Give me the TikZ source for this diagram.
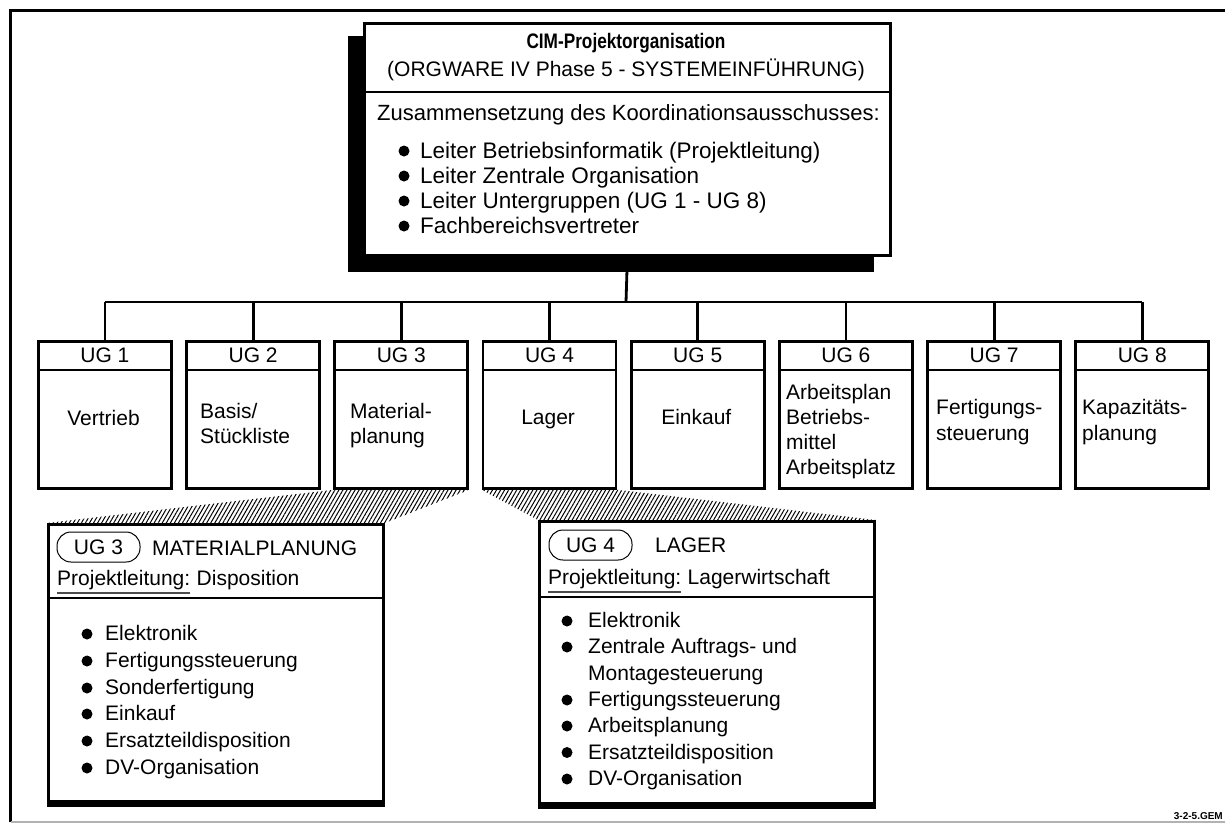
\documentclass[tikz,border=0pt]{standalone}
\usepackage{fontspec}
\setmainfont{Liberation Sans}
\newfontfamily\narrowsans{Liberation Sans}[FakeStretch=0.82]
\usetikzlibrary{positioning,patterns.meta}

\tikzset{
    lbl/.style={font=\fontsize{21}{25}\selectfont, inner sep=0, anchor=base west},
    biglbl/.style={font=\fontsize{22.5}{26}\selectfont, inner sep=0, anchor=base west},
    ttl/.style={font=\fontsize{21}{25}\narrowsans\bfseries\selectfont, inner sep=0, anchor=base},
    ugbox/.style={draw, line width=2.8pt, fill=white, anchor=north west, inner sep=0, minimum width=133pt, minimum height=147pt},
    detbox/.style={draw, line width=2.8pt, fill=white, anchor=north west, inner sep=0, minimum width=335pt},
    bul/.style={circle, fill=black, inner sep=0, minimum size=11pt},
    pill/.style={draw, line width=1pt, rounded corners=14pt, inner sep=0, minimum width=83pt, minimum height=30pt, font=\fontsize{21}{25}\selectfont},
    hatch/.style={pattern={Lines[angle=60, distance=3.5pt, line width=1pt]}},
    link/.style={line width=2.8pt}
}

\begin{document}
\begin{tikzpicture}[x=1pt, y=-1pt]

    \useasboundingbox (0,0) rectangle (1225,825);
    \draw[line width=2.8pt] (1225,10.5) -- (10.5,10.5) -- (10.5,822);
    \draw[line width=1.5pt, black!30] (10.5,822) -- (1225,822);

    \fill (348,36) rectangle (874,272);
    \node[draw, line width=2.8pt, fill=white, anchor=north west, inner sep=0, minimum width=526pt, minimum height=232pt] (top) at (363,22) {};
    \draw[link] ([yshift=-70pt]top.north west) -- ([yshift=-70pt]top.north east);

    \node[ttl] (title) at (626,48.5) {CIM-Projektorganisation};
    \node[lbl, anchor=base] (phase) at (626,76.5) {(ORGWARE IV Phase 5 - SYSTEMEINFÜHRUNG)};
    \node[lbl, font=\fontsize{22}{26}\selectfont] (zus) at (377,120.5) {Zusammensetzung des Koordinationsausschusses:};
    \node[bul] (zb1) at (404,151) {};
    \node[biglbl] (z1) at (420,158) {Leiter Betriebsinformatik (Projektleitung)};
    \node[bul] (zb2) at (404,176) {};
    \node[biglbl] (z2) at (420,183) {Leiter Zentrale Organisation};
    \node[bul] (zb3) at (404,201) {};
    \node[biglbl] (z3) at (420,208) {Leiter Untergruppen (UG 1 - UG 8)};
    \node[bul] (zb4) at (404,226) {};
    \node[biglbl] (z4) at (420,233) {Fachbereichsvertreter};

    \coordinate (bus) at (626,302);
    \draw[link] (top.south) -- (bus);

    \node[ugbox] (ug1) at (37,340) {};
    \node[ugbox] (ug2) at (185.2,340) {};
    \node[ugbox] (ug3) at (333.4,340) {};
    \node[ugbox] (ug4) at (481.6,340) {};
    \node[ugbox] (ug5) at (629.8,340) {};
    \node[ugbox] (ug6) at (778,340) {};
    \node[ugbox] (ug7) at (926.2,340) {};
    \node[ugbox] (ug8) at (1074.4,340) {};

    \draw[link] (ug1.north |- bus) -- (ug8.north |- bus);
    \draw[link] (ug1.north) -- (ug1.north |- bus);
    \draw[link] (ug2.north) -- (ug2.north |- bus);
    \draw[link] (ug3.north) -- (ug3.north |- bus);
    \draw[link] (ug4.north) -- (ug4.north |- bus);
    \draw[link] (ug5.north) -- (ug5.north |- bus);
    \draw[link] (ug6.north) -- (ug6.north |- bus);
    \draw[link] (ug7.north) -- (ug7.north |- bus);
    \draw[link] (ug8.north) -- (ug8.north |- bus);

    \draw[link] ([yshift=-30pt]ug1.north west) -- ([yshift=-30pt]ug1.north east);
    \draw[link] ([yshift=-30pt]ug2.north west) -- ([yshift=-30pt]ug2.north east);
    \draw[link] ([yshift=-30pt]ug3.north west) -- ([yshift=-30pt]ug3.north east);
    \draw[link] ([yshift=-30pt]ug4.north west) -- ([yshift=-30pt]ug4.north east);
    \draw[link] ([yshift=-30pt]ug5.north west) -- ([yshift=-30pt]ug5.north east);
    \draw[link] ([yshift=-30pt]ug6.north west) -- ([yshift=-30pt]ug6.north east);
    \draw[link] ([yshift=-30pt]ug7.north west) -- ([yshift=-30pt]ug7.north east);
    \draw[link] ([yshift=-30pt]ug8.north west) -- ([yshift=-30pt]ug8.north east);

    \node[lbl, anchor=base] (h1) at ([yshift=-22.5pt]ug1.north) {UG 1};
    \node[lbl, anchor=base] (h2) at ([yshift=-22.5pt]ug2.north) {UG 2};
    \node[lbl, anchor=base] (h3) at ([yshift=-22.5pt]ug3.north) {UG 3};
    \node[lbl, anchor=base] (h4) at ([yshift=-22.5pt]ug4.north) {UG 4};
    \node[lbl, anchor=base] (h5) at ([yshift=-22.5pt]ug5.north) {UG 5};
    \node[lbl, anchor=base] (h6) at ([yshift=-22.5pt]ug6.north) {UG 6};
    \node[lbl, anchor=base] (h7) at ([yshift=-22.5pt]ug7.north) {UG 7};
    \node[lbl, anchor=base] (h8) at ([yshift=-22.5pt]ug8.north) {UG 8};

    \node[lbl, anchor=base] (n1) at (103.5,425) {Vertrieb};
    \node[lbl] (n2a) at (200,418.5) {Basis/};
    \node[lbl] (n2b) at (200,443.5) {Stückliste};
    \node[lbl] (n3a) at (350,418.5) {Material-};
    \node[lbl] (n3b) at (350,443.5) {planung};
    \node[lbl, anchor=base] (n4) at (548.1,424) {Lager};
    \node[lbl, anchor=base] (n5) at (696.3,424) {Einkauf};
    \node[lbl] (n6a) at (786,399.5) {Arbeitsplan};
    \node[lbl] (n6b) at (786,424) {Betriebs-};
    \node[lbl] (n6c) at (786,449) {mittel};
    \node[lbl] (n6d) at (786,474) {Arbeitsplatz};
    \node[lbl] (n7a) at (936,414.5) {Fertigungs-};
    \node[lbl] (n7b) at (936,440.5) {steuerung};
    \node[lbl] (n8a) at (1082,414.5) {Kapazitäts-};
    \node[lbl] (n8b) at (1082,440.5) {planung};

    \node[detbox, minimum height=277pt] (d3) at (47,523) {};
    \node[detbox, minimum height=282pt] (d4) at (538,520) {};
    \fill[hatch] (ug3.south west) -- (ug3.south east) -- (d3.north east) -- (d3.north west) -- cycle;
    \fill[hatch] (ug4.south west) -- (ug4.south east) -- (d4.north east) -- (d4.north west) -- cycle;
    \draw[line width=4.5pt] ([yshift=-1.5pt]d3.south west) -- ([yshift=-1.5pt]d3.south east);
    \draw[line width=4.5pt] ([yshift=-1.5pt]d4.south west) -- ([yshift=-1.5pt]d4.south east);
    \draw[link] ([yshift=-75pt]d3.north west) -- ([yshift=-75pt]d3.north east);
    \draw[link] ([yshift=-77pt]d4.north west) -- ([yshift=-77pt]d4.north east);

    \node[pill] (p3) at (98.5,547) {UG 3};
    \node[lbl] (m3) at (152,555.5) {MATERIALPLANUNG};
    \node[lbl] (pl3) at (57,585.5) {Projektleitung:};
    \node[lbl] (dis) at ([xshift=6pt]pl3.base east) {Disposition};
    \draw[line width=1.3pt, black!70] ([yshift=-3pt]pl3.south west) -- ([yshift=-3pt]pl3.south east);

    \node[bul] (a1) at (87,634) {};
    \node[lbl] (t1) at (105,640.5) {Elektronik};
    \node[bul] (a2) at (87,661) {};
    \node[lbl] (t2) at (105,667.5) {Fertigungssteuerung};
    \node[bul] (a3) at (87,688) {};
    \node[lbl] (t3) at (105,694.5) {Sonderfertigung};
    \node[bul] (a4) at (87,714) {};
    \node[lbl] (t4) at (105,720.5) {Einkauf};
    \node[bul] (a5) at (87,741) {};
    \node[lbl] (t5) at (105,747.5) {Ersatzteildisposition};
    \node[bul] (a6) at (87,768) {};
    \node[lbl] (t6) at (105,774.5) {DV-Organisation};

    \node[pill] (p4) at (590.5,545) {UG 4};
    \node[lbl] (m4) at (655,552.5) {LAGER};
    \node[lbl] (pl4) at (548,584.5) {Projektleitung:};
    \node[lbl] (lw) at ([xshift=6pt]pl4.base east) {Lagerwirtschaft};
    \draw[line width=1.3pt, black!70] ([yshift=-3pt]pl4.south west) -- ([yshift=-3pt]pl4.south east);

    \node[bul] (c1) at (567,621) {};
    \node[lbl] (s1) at (588,627.5) {Elektronik};
    \node[bul] (c2) at (567,647) {};
    \node[lbl] (s2) at (588,653.5) {Zentrale Auftrags- und};
    \node[lbl] (s2b) at (588,680) {Montagesteuerung};
    \node[bul] (c3) at (567,700) {};
    \node[lbl] (s3) at (588,706.5) {Fertigungssteuerung};
    \node[bul] (c4) at (567,726) {};
    \node[lbl] (s4) at (588,732.5) {Arbeitsplanung};
    \node[bul] (c5) at (567,752.5) {};
    \node[lbl] (s5) at (588,759) {Ersatzteildisposition};
    \node[bul] (c6) at (567,779) {};
    \node[lbl] (s6) at (588,785.5) {DV-Organisation};

    \node[font=\fontsize{10}{12}\selectfont\bfseries, inner sep=0, anchor=base east] (gem) at (1223,819) {3-2-5.GEM};
\end{tikzpicture}
\end{document}
